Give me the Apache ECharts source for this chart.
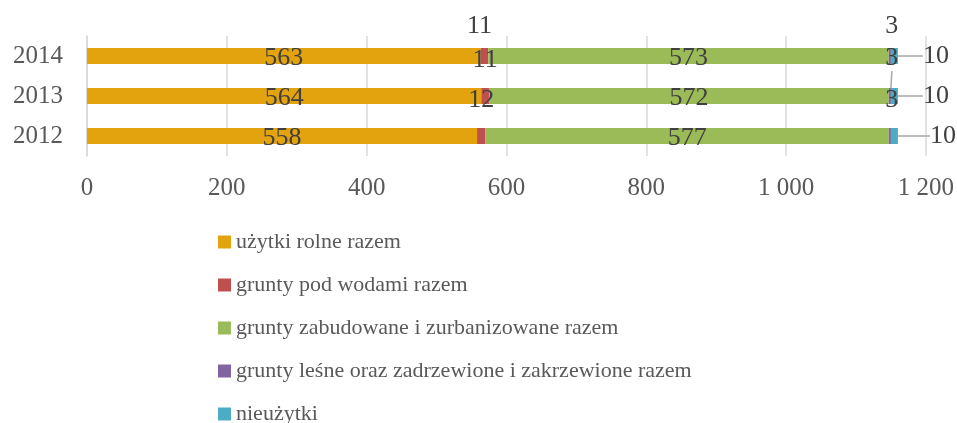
<!DOCTYPE html>
<html>
<head>
<meta charset="utf-8">
<script src="https://cdn.jsdelivr.net/npm/echarts@6/dist/echarts.min.js"></script>
<style>
	html, body { margin: 0; padding: 0; background: #fff; }
	#chart { width: 957px; height: 423px; }
</style>
</head>
<body>
<div id="chart"></div>
<script>
const years = ["2012", "2013", "2014"]
const uzytkiRolne = [558, 564, 563]
const gruntyPodWodami = [12, 11, 11]
const gruntyZabudowane = [577, 572, 573]
const gruntyLesne = [3, 3, 3]
const nieuzytki = [10, 10, 10]
const xTicks = [0, 200, 400, 600, 800, 1000, 1200]

const font = "Liberation Serif"
const labelStyle = {
	show: true,
	position: "inside",
	offset: [0, 2],
	color: "#404040",
	fontFamily: font,
	fontSize: 26,
}

const getSeries = (name, data, color, extra = {}) => ({
	name,
	type: "bar",
	stack: "total",
	data,
	barWidth: 16,
	itemStyle: { color },
	label: { ...labelStyle },
	emphasis: { disabled: true },
	...extra,
})

// Excel moved the small labels up by hand, keep that look
const redShift = [[0, -36], [0, -36], [-5, -30]]
const purpleShift = [[2, -36], [2, -38], [2, -30]]
const cyanShift = [27, 20, 20]

const chart = echarts.init(document.getElementById("chart"))
chart.setOption({
	animation: false,
	grid: { left: 87, right: 30, top: 36, height: 120 },
	legend: {
		orient: "vertical",
		left: 213,
		top: 226,
		height: 320,
		itemWidth: 13,
		itemHeight: 13,
		itemGap: 21,
		icon: "rect",
		textStyle: { color: "#595959", fontFamily: font, fontSize: 22 },
		data: [
			"użytki rolne razem",
			"grunty pod wodami razem",
			"grunty zabudowane i zurbanizowane razem",
			"grunty leśne oraz zadrzewione i zakrzewione razem",
			"nieużytki",
		],
	},
	xAxis: {
		type: "value",
		min: 0,
		max: 1200,
		interval: 200,
		axisLine: { show: false },
		axisTick: { show: false },
		splitLine: { lineStyle: { color: "#d9d9d9", width: 1.5 } },
		axisLabel: {
			margin: 20,
			color: "#595959",
			fontFamily: font,
			fontSize: 25,
			formatter: v => (xTicks.includes(v) ? String(v).replace(/\B(?=(\d{3})+(?!\d))/g, " ") : ""),
		},
	},
	yAxis: {
		type: "category",
		data: years,
		axisLine: { lineStyle: { color: "#d9d9d9", width: 1.5 } },
		axisTick: { show: false },
		axisLabel: { margin: 24, color: "#595959", fontFamily: font, fontSize: 25 },
	},
	series: [
		getSeries("użytki rolne razem", uzytkiRolne, "#e2a30f"),
		getSeries("grunty pod wodami razem", gruntyPodWodami, "#c0504d", {
			labelLayout: p => ({ dx: redShift[p.dataIndex][0], dy: redShift[p.dataIndex][1] }),
		}),
		getSeries("grunty zabudowane i zurbanizowane razem", gruntyZabudowane, "#9bbb59"),
		getSeries(
			"grunty leśne oraz zadrzewione i zakrzewione razem",
			gruntyLesne.map((v, i) => (i === 1 ? { value: v, labelLine: { show: true } } : v)),
			"#8064a2",
			{
				labelLine: { show: false, lineStyle: { color: "#a6a6a6", width: 1.5 } },
				labelLayout: p => ({ dx: purpleShift[p.dataIndex][0], dy: purpleShift[p.dataIndex][1] }),
			}
		),
		getSeries("nieużytki", nieuzytki, "#4bacc6", {
			label: { ...labelStyle, offset: [0, 0], position: "right", distance: 5 },
			labelLine: { show: true, lineStyle: { color: "#a6a6a6", width: 1.5 } },
			labelLayout: p => ({ dx: cyanShift[p.dataIndex] }),
		}),
	],
})
</script>
</body>
</html>
